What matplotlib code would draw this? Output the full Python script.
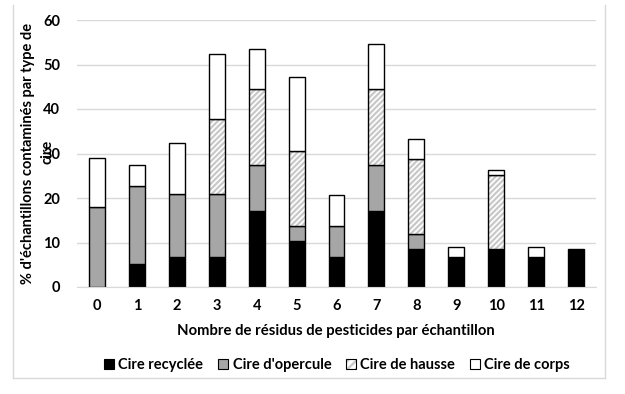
import matplotlib
matplotlib.use("Agg")
import matplotlib.pyplot as plt
from matplotlib.patches import Patch
from matplotlib.lines import Line2D
from matplotlib.legend_handler import HandlerTuple
import numpy as np

plt.rcParams['hatch.linewidth'] = 1.6
plt.rcParams['font.family'] = ['Lato', 'DejaVu Sans']

categories = ['0', '1', '2', '3', '4', '5', '6', '7', '8', '9', '10', '11', '12']
cire_recyclee = [0, 5.1, 6.7, 6.7, 17.0, 10.3, 6.7, 17.0, 8.5, 6.7, 8.5, 6.7, 8.5]
cire_opercule = [17.9, 17.7, 14.3, 14.3, 10.5, 3.3, 7.1, 10.5, 3.5, 0, 0, 0, 0]
cire_hausse = [0, 0, 0, 16.7, 16.9, 16.9, 0, 16.9, 16.7, 0, 16.6, 0, 0]
cire_corps = [11.2, 4.6, 11.3, 14.7, 9.0, 16.8, 6.8, 10.1, 4.5, 2.2, 1.1, 2.2, 0]
series_names = ['Cire recyclée', "Cire d'opercule", 'Cire de hausse', 'Cire de corps']
yticks = [0, 10, 20, 30, 40, 50, 60]

W, H = 625, 394
fig = plt.figure(figsize=(W / 100, H / 100), dpi=100)
ax = fig.add_axes([77 / W, 1 - 287 / H, (596 - 77) / W, (287 - 20) / H])

x = np.arange(len(categories))
bw = 0.4
grid_c = '#d9d9d9'
hatch_c = '#c8c8c8'
ax.set_axisbelow(True)
ax.yaxis.grid(True, color=grid_c, linewidth=1)

bottom = np.zeros(len(categories))
fills = ['black', '#a6a6a6', 'white', 'white']
hatches = [None, None, '//////', None]
for vals, fc_, h in zip([cire_recyclee, cire_opercule, cire_hausse, cire_corps], fills, hatches):
    v = np.array(vals, dtype=float)
    mask = v > 0
    if h:
        ax.bar(x[mask], v[mask], bw, bottom=bottom[mask], color=fc_, edgecolor=hatch_c,
               hatch=h, linewidth=0)
        ax.bar(x[mask], v[mask], bw, bottom=bottom[mask], fill=False, edgecolor='black',
               linewidth=1.0)
    else:
        ax.bar(x[mask], v[mask], bw, bottom=bottom[mask], color=fc_, edgecolor='black',
               linewidth=1.0)
    bottom += v

ax.set_xlim(-0.5, len(categories) - 0.5)
ax.set_ylim(0, 60)
ax.set_yticks(yticks)
ax.set_xticks(x)
ax.set_xticklabels(categories)
for s in ['top', 'right', 'left']:
    ax.spines[s].set_visible(False)
ax.spines['bottom'].set_color(grid_c)
ax.tick_params(axis='both', length=0, labelsize=10.5)
ax.tick_params(axis='x', pad=9)
ax.tick_params(axis='y', pad=12)
for lab in ax.get_xticklabels() + ax.get_yticklabels():
    lab.set_fontweight('bold')

fig.text(336 / W, 1 - 331 / H, 'Nombre de résidus de pesticides par échantillon',
         ha='center', va='center', fontsize=10.7, fontweight='bold')
fig.text(28 / W, 1 - 153 / H, "% d'échantillons contaminés par type de",
         ha='center', va='center', rotation=90, fontsize=10.5, fontweight='bold')
fig.text(48 / W, 1 - 152 / H, "cire",
         ha='center', va='center', rotation=90, fontsize=10.5, fontweight='bold')

handles = [
    Patch(facecolor='black', edgecolor='black', linewidth=0.8),
    Patch(facecolor='#a6a6a6', edgecolor='black', linewidth=0.8),
    (Patch(facecolor='white', edgecolor=hatch_c, hatch='////', linewidth=0),
     Patch(fill=False, edgecolor='black', linewidth=0.8)),
    Patch(facecolor='white', edgecolor='black', linewidth=0.8),
]
leg = fig.legend(handles, series_names, loc='center', bbox_to_anchor=(337 / W, 1 - 365 / H),
                 ncol=4, frameon=False, handlelength=0.7, handleheight=0.7,
                 handletextpad=0.3, columnspacing=1.0, prop=dict(weight='bold', size=10.5),
                 handler_map={tuple: HandlerTuple(ndivide=1, pad=0)})

# outer chart frame (left, right, bottom)
fc = '#d9d9d9'
fig.add_artist(Line2D([13 / W, 13 / W], [1 - 378 / H, 1 - 5 / H], color=fc, lw=1, transform=fig.transFigure))
fig.add_artist(Line2D([605 / W, 605 / W], [1 - 378 / H, 1 - 5 / H], color=fc, lw=1, transform=fig.transFigure))
fig.add_artist(Line2D([13 / W, 605 / W], [1 - 378 / H, 1 - 378 / H], color=fc, lw=1, transform=fig.transFigure))

fig.savefig('out.png', dpi=100)
